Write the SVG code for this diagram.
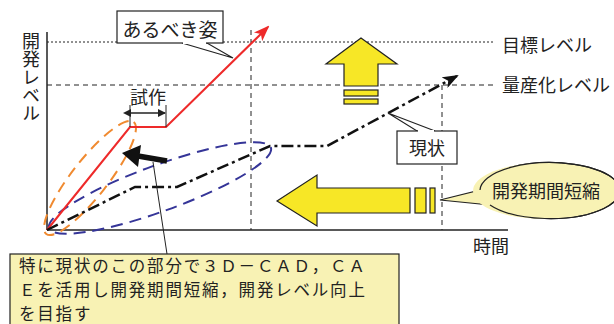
<svg xmlns="http://www.w3.org/2000/svg" width="614" height="324" viewBox="0 0 614 324">
<defs>
<style>
text{font-family:"Noto Sans CJK JP","Noto Sans",sans-serif;fill:#222;}
.lbl{font-size:18px;}
.box{fill:#fff;stroke:#222;stroke-width:1.2;}
.pale{fill:#f8f2b4;stroke:#222;stroke-width:1.2;}
.yel{fill:#f7e726;stroke:#222;stroke-width:1.2;}
.grid1{stroke:#222;stroke-width:1;stroke-dasharray:2 2;fill:none;}
.grid2{stroke:#222;stroke-width:1;stroke-dasharray:5 4;fill:none;}
</style>
<marker id="ah" markerWidth="8" markerHeight="8" refX="7" refY="4" orient="auto" markerUnits="userSpaceOnUse"><path d="M0,0 L8,4 L0,8 Z" fill="#222"/></marker>
<marker id="ahs" markerWidth="8" markerHeight="8" refX="0" refY="4" orient="auto-start-reverse" markerUnits="userSpaceOnUse"><path d="M0,0 L8,4 L0,8 Z" fill="#222"/></marker>
<marker id="redh" markerWidth="16" markerHeight="12" refX="14" refY="6" orient="auto" markerUnits="userSpaceOnUse"><path d="M0,0 L16,6 L0,12 L4,6 Z" fill="#ee2a2a"/></marker>
<marker id="blkh" markerWidth="16" markerHeight="12" refX="14" refY="6" orient="auto" markerUnits="userSpaceOnUse"><path d="M0,0 L16,6 L0,12 L4,6 Z" fill="#111"/></marker>
</defs>
<rect width="614" height="324" fill="#fff"/>

<g id="axes">
<line x1="47" y1="32" x2="47" y2="230" stroke="#222" stroke-width="1.5"/>
<line x1="47" y1="230" x2="508" y2="230" stroke="#222" stroke-width="1.5"/>
<line class="grid1" x1="47" y1="42" x2="493" y2="42"/>
<line class="grid2" x1="47" y1="85" x2="493" y2="85"/>
<line class="grid2" x1="251" y1="30" x2="251" y2="230"/>
<line class="grid2" x1="442" y1="85" x2="442" y2="230"/>
<text class="lbl" x="31" y="32" writing-mode="vertical-rl">開発レベル</text>
<text class="lbl" x="502" y="52">目標レベル</text>
<text class="lbl" x="502" y="92">量産化レベル</text>
<text class="lbl" x="491" y="253" text-anchor="middle">時間</text>
</g>

<g id="ellipses">
<ellipse cx="90" cy="178" rx="71" ry="18" transform="rotate(-52 90 178)" fill="none" stroke="#f08a30" stroke-width="2" stroke-dasharray="11 7"/>
<ellipse cx="160" cy="188" rx="118" ry="23" transform="rotate(-20 160 188)" fill="none" stroke="#353598" stroke-width="2" stroke-dasharray="12 7"/>
</g>

<g id="connectors">
<polyline points="47,230 130,127 166,127 268,27" fill="none" stroke="#ee2a2a" stroke-width="2" marker-end="url(#redh)"/>
<polyline points="47,230 135,187 177,187 270,146 327,146 457,76" fill="none" stroke="#111" stroke-width="2.5" stroke-dasharray="12 4 3 4" marker-end="url(#blkh)"/>
<line x1="130" y1="105" x2="130" y2="127" stroke="#222" stroke-width="1"/>
<line x1="166" y1="105" x2="166" y2="127" stroke="#222" stroke-width="1"/>
<line x1="131" y1="113" x2="165" y2="113" stroke="#222" stroke-width="1.5" marker-start="url(#ahs)" marker-end="url(#ah)"/>
<line x1="167" y1="161" x2="138" y2="156" stroke="#111" stroke-width="5.5"/>
<polygon points="122,153 141,145 138,167" fill="#111"/>
<line x1="153" y1="162" x2="167" y2="254" stroke="#222" stroke-width="1"/>
</g>

<g id="ideal">
<polygon points="182,43 233,58 207,43" class="box"/>
<rect x="117" y="11" width="106" height="32" class="box"/>
<line x1="183" y1="43" x2="206" y2="43" stroke="#fff" stroke-width="2"/>
<text x="170" y="37" text-anchor="middle" font-size="19">あるべき姿</text>
</g>

<g id="trial">
<text class="lbl" x="148" y="104" text-anchor="middle">試作</text>
</g>

<g id="current">
<polygon points="388,113 417,131 435,131" class="box"/>
<rect x="397" y="131" width="60" height="33" class="box"/>
<line x1="418" y1="131" x2="434" y2="131" stroke="#fff" stroke-width="2"/>
<text class="lbl" x="427" y="155" text-anchor="middle">現状</text>
</g>

<g id="uparrow">
<polygon class="yel" points="361,38 397,64 378,64 378,86 344,86 344,64 326,64"/>
<rect class="yel" x="344" y="90" width="34" height="6"/>
<rect class="yel" x="344" y="99" width="34" height="5"/>
</g>

<g id="leftarrow">
<polygon class="yel" points="277,201 317,175 317,188 410,188 410,213 317,213 317,226"/>
<rect class="yel" x="415" y="188" width="11" height="25"/>
<rect class="yel" x="430" y="188" width="5" height="25"/>
</g>

<g id="shorten">
<path class="pale" d="M440,200 L480,190 A70,28 0 1,1 490,205 Z"/>
<ellipse cx="543" cy="191" rx="70" ry="28" fill="#f8f2b4"/>
<path d="M480,190 A70,28 0 1,1 490,205" fill="none" stroke="#222" stroke-width="1.2"/>
<text class="lbl" x="546" y="198" text-anchor="middle">開発期間短縮</text>
</g>

<g id="note">
<rect class="pale" x="10" y="254" width="389" height="80"/>
<text font-size="16.5" letter-spacing="1.8"><tspan x="19" y="272">特に現状のこの部分で３Ｄ－ＣＡＤ，ＣＡ</tspan><tspan x="19" y="296">Ｅを活用し開発期間短縮，開発レベル向上</tspan><tspan x="19" y="320">を目指す</tspan></text>
</g>
</svg>
